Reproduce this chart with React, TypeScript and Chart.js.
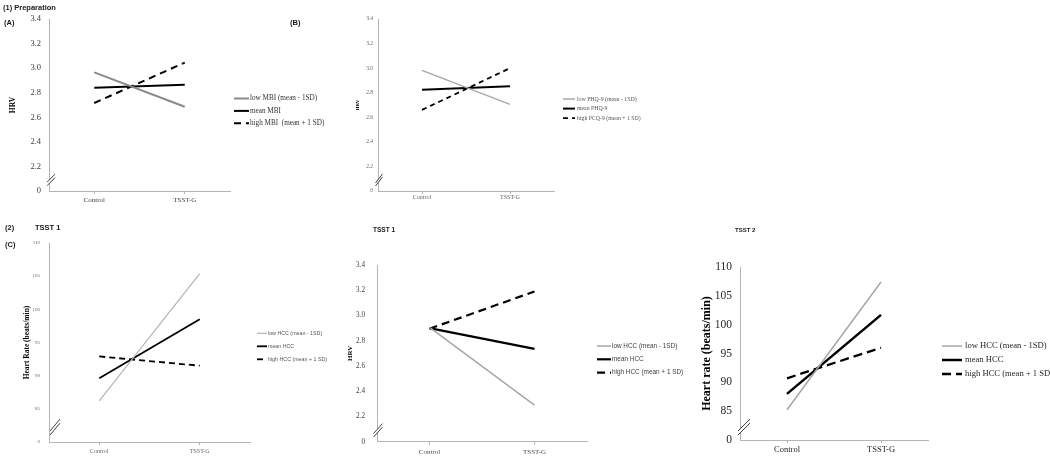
import React, { useEffect, useRef } from "react";
import { Chart, registerables } from "chart.js";
Chart.register(...registerables);

// ---------- data ----------
const categories = ["Control", "TSST-G"];

const hrvTickLabels = ["0", "2.2", "2.4", "2.6", "2.8", "3.0", "3.2", "3.4"];
const hrTickLabels = ["0", "85", "90", "95", "100", "105", "110"];

// (A) Preparation – HRV by MBI
const mbiLabels = ["low MBI (mean - 1SD)", "mean MBI", "high MBI  (mean + 1 SD)"];
const mbiLow = [2.966, 2.686];
const mbiMean = [2.84, 2.865];
const mbiHigh = [2.716, 3.045];

// (B) Preparation – HRV by PHQ-9
const phqLabels = ["low PHQ-9 (mean - 1SD)", "mean PHQ-9", "high PCQ-9 (mean + 1 SD)"];
const phqLow = [2.982, 2.705];
const phqMean = [2.824, 2.852];
const phqHigh = [2.66, 3.0];

// (C) TSST 1 – heart rate by HCC
const hccLabels = ["low HCC (mean - 1SD)", "mean HCC", "high HCC (mean + 1 SD)"];
const hr1Low = [86.2, 105.4];
const hr1Mean = [89.6, 98.5];
const hr1High = [92.9, 91.5];

// TSST 1 – HRV by HCC
const hrv1Low = [2.905, 2.29];
const hrv1Mean = [2.9, 2.735];
const hrv1High = [2.895, 3.19];

// TSST 2 – heart rate by HCC
const hr2Low = [85.25, 107.4];
const hr2Mean = [88.0, 101.7];
const hr2High = [90.7, 96.0];

const hrvRange = { min: 2.0, max: 3.4, step: 0.2 };
const hrRange = { min: 80, max: 110, step: 5 };

// ---------- styling / layout ----------
const W = 1050;
const H = 458;
const SERIF = '"Liberation Serif", "DejaVu Serif", serif';
const SANS = '"Liberation Sans", "DejaVu Sans", sans-serif';
const AXIS = "#b4b4b4";

type Series = { label: string; data: number[]; color: string; width: number; dash: number[] };

type PanelCfg = {
  plot: { l: number; t: number; r: number; b: number };
  range: { min: number; max: number; step: number };
  tickLabels: string[];
  yTitle: string;
  yTitleSize: number;
  yTitleX: number;
  yTickSize: number;
  yTickPad: number;
  tickColor: string;
  xTickSize: number;
  xTickPad: number;
  series: Series[];
  legend: { x: number; sample: number; textX: number; y0: number; gap: number; size: number; family: string; color: string };
  brk: { dx: number; hw: number; hh: number; sep: number };
};

function mk(labels: string[], low: number[], mean: number[], high: number[], gray: string, wLow: number, wMean: number, wHigh: number, dash: number[]): Series[] {
  return [
    { label: labels[0], data: low, color: gray, width: wLow, dash: [] },
    { label: labels[1], data: mean, color: "#000000", width: wMean, dash: [] },
    { label: labels[2], data: high, color: "#000000", width: wHigh, dash },
  ];
}

const panels: PanelCfg[] = [
  {
    plot: { l: 49, t: 19, r: 230, b: 191 },
    range: hrvRange,
    tickLabels: hrvTickLabels,
    yTitle: "HRV",
    yTitleSize: 7.5,
    yTitleX: 13,
    yTickSize: 8.5,
    yTickPad: 8,
    tickColor: "#404040",
    xTickSize: 7,
    xTickPad: 2,
    series: mk(mbiLabels, mbiLow, mbiMean, mbiHigh, "#8a8a8a", 2, 2, 2, [7, 5]),
    legend: { x: 234, sample: 15, textX: 250, y0: 98.5, gap: 12.4, size: 7.2, family: SERIF, color: "#333333" },
    brk: { dx: 2, hw: 4, hh: 4, sep: 3.5 },
  },
  {
    plot: { l: 378, t: 19, r: 554, b: 191 },
    range: hrvRange,
    tickLabels: hrvTickLabels,
    yTitle: "HRV",
    yTitleSize: 5,
    yTitleX: 358,
    yTickSize: 5.5,
    yTickPad: 5,
    tickColor: "#666666",
    xTickSize: 6,
    xTickPad: 0,
    series: mk(phqLabels, phqLow, phqMean, phqHigh, "#a8a8a8", 1.5, 2, 1.8, [5, 4]),
    legend: { x: 563, sample: 12, textX: 577, y0: 99, gap: 9.6, size: 5.8, family: SERIF, color: "#555555" },
    brk: { dx: 1, hw: 3.5, hh: 4.5, sep: 3 },
  },
  {
    plot: { l: 49, t: 243, r: 250, b: 442 },
    range: hrRange,
    tickLabels: hrTickLabels,
    yTitle: "Heart Rate (beats/min)",
    yTitleSize: 7.5,
    yTitleX: 27,
    yTickSize: 5,
    yTickPad: 9,
    tickColor: "#666666",
    xTickSize: 6,
    xTickPad: 3,
    series: mk(hccLabels, hr1Low, hr1Mean, hr1High, "#b3b3b3", 1.2, 1.8, 1.8, [6, 4]),
    legend: { x: 257, sample: 10, textX: 268, y0: 333.3, gap: 13, size: 5.3, family: SANS, color: "#555555" },
    brk: { dx: 6, hw: 5, hh: 6, sep: 4 },
  },
  {
    plot: { l: 377, t: 265, r: 587, b: 443 },
    range: hrvRange,
    tickLabels: hrvTickLabels,
    yTitle: "HRV",
    yTitleSize: 7,
    yTitleX: 350,
    yTickSize: 7.2,
    yTickPad: 12,
    tickColor: "#404040",
    xTickSize: 7,
    xTickPad: 3,
    series: mk(hccLabels, hrv1Low, hrv1Mean, hrv1High, "#a6a6a6", 1.5, 2.2, 2.2, [8, 5]),
    legend: { x: 597, sample: 14, textX: 612, y0: 346, gap: 13.3, size: 6.4, family: SANS, color: "#404040" },
    brk: { dx: 1, hw: 4.5, hh: 5, sep: 3.5 },
  },
  {
    plot: { l: 740, t: 267, r: 928, b: 440 },
    range: hrRange,
    tickLabels: hrTickLabels,
    yTitle: "Heart rate (beats/min)",
    yTitleSize: 12,
    yTitleX: 707,
    yTickSize: 11.5,
    yTickPad: 8,
    tickColor: "#262626",
    xTickSize: 8.5,
    xTickPad: 2,
    series: mk(hccLabels, hr2Low, hr2Mean, hr2High, "#a6a6a6", 1.5, 2.5, 2.3, [9, 5]),
    legend: { x: 942, sample: 20, textX: 965, y0: 346, gap: 14, size: 8.6, family: SERIF, color: "#262626" },
    brk: { dx: 4, hw: 6, hh: 6, sep: 4 },
  },
];

type Header = { text: string; x: number; y: number; size: number };
const headers: Header[] = [
  { text: "(1) Preparation", x: 3, y: 8, size: 7.5 },
  { text: "(A)", x: 4, y: 23, size: 7.5 },
  { text: "(B)", x: 290, y: 23, size: 7.5 },
  { text: "(2)", x: 5, y: 228, size: 7.5 },
  { text: "TSST 1", x: 35, y: 228, size: 7.5 },
  { text: "(C)", x: 5, y: 245, size: 7.5 },
  { text: "TSST 1", x: 373, y: 230, size: 6.5 },
  { text: "TSST 2", x: 735, y: 230, size: 6 },
];

function PanelChart({ cfg }: { cfg: PanelCfg }) {
  const ref = useRef<HTMLCanvasElement | null>(null);
  useEffect(() => {
    const canvas = ref.current;
    if (!canvas) return;
    const X_H = 12;
    const titleLeft = cfg.yTitleX - 0.6 * cfg.yTitleSize;
    const yWidth = cfg.plot.l - titleLeft;

    const decor = {
      id: "decor",
      afterDraw(chart: any) {
        const { ctx, chartArea, scales } = chart;
        const ys = scales.y;
        // axis break mark
        const b = cfg.brk;
        const cy = ys.getPixelForValue(cfg.range.min + cfg.range.step * 0.45);
        const cx = chartArea.left + b.dx;
        ctx.save();
        ctx.fillStyle = "#ffffff";
        ctx.beginPath();
        ctx.moveTo(cx - b.hw, cy + b.hh - b.sep / 2);
        ctx.lineTo(cx + b.hw, cy - b.hh - b.sep / 2);
        ctx.lineTo(cx + b.hw, cy - b.hh + b.sep / 2);
        ctx.lineTo(cx - b.hw, cy + b.hh + b.sep / 2);
        ctx.closePath();
        ctx.fill();
        ctx.strokeStyle = "#404040";
        ctx.lineWidth = 1;
        for (const s of [-1, 1]) {
          ctx.beginPath();
          ctx.moveTo(cx - b.hw, cy + b.hh + (s * b.sep) / 2);
          ctx.lineTo(cx + b.hw, cy - b.hh + (s * b.sep) / 2);
          ctx.stroke();
        }
        // legend
        const lg = cfg.legend;
        ctx.font = `${lg.size}px ${lg.family}`;
        ctx.textBaseline = "middle";
        ctx.textAlign = "left";
        chart.data.datasets.forEach((ds: any, i: number) => {
          const y = lg.y0 + i * lg.gap;
          ctx.strokeStyle = ds.borderColor;
          ctx.lineWidth = ds.borderWidth;
          ctx.setLineDash(ds.borderDash || []);
          ctx.lineCap = "butt";
          ctx.beginPath();
          ctx.moveTo(lg.x, y);
          ctx.lineTo(lg.x + lg.sample, y);
          ctx.stroke();
          ctx.setLineDash([]);
          ctx.fillStyle = lg.color;
          ctx.fillText(ds.label, lg.textX, y);
        });
        ctx.restore();
      },
    };

    const chart = new Chart(canvas, {
      type: "line",
      data: {
        labels: categories,
        datasets: cfg.series.map((s) => ({
          label: s.label,
          data: s.data,
          borderColor: s.color,
          backgroundColor: s.color,
          borderWidth: s.width,
          borderDash: s.dash,
          borderCapStyle: "butt",
          pointRadius: 0,
          pointHoverRadius: 0,
          tension: 0,
          fill: false,
        })),
      },
      options: {
        animation: false,
        responsive: false,
        maintainAspectRatio: false,
        devicePixelRatio: 1,
        events: [],
        layout: {
          padding: {
            left: titleLeft,
            top: cfg.plot.t,
            right: W - cfg.plot.r,
            bottom: H - cfg.plot.b - X_H,
          },
        },
        plugins: { legend: { display: false }, tooltip: { enabled: false }, title: { display: false } },
        scales: {
          x: {
            type: "category",
            offset: true,
            grid: { display: true, drawOnChartArea: false, drawTicks: true, tickLength: 3, color: AXIS },
            border: { display: true, color: AXIS, width: 1 },
            ticks: {
              autoSkip: false,
              maxRotation: 0,
              padding: cfg.xTickPad,
              color: cfg.tickColor,
              font: { family: SERIF, size: cfg.xTickSize },
            },
            afterFit: (s: any) => {
              s.height = X_H;
            },
          },
          y: {
            type: "linear",
            min: cfg.range.min,
            max: cfg.range.max,
            grid: { display: false, drawTicks: false },
            border: { display: true, color: AXIS, width: 1 },
            ticks: {
              stepSize: cfg.range.step,
              padding: cfg.yTickPad,
              color: cfg.tickColor,
              font: { family: SERIF, size: cfg.yTickSize },
              callback: (v: any, i: number) => {
                const lbl = cfg.tickLabels[i];
                return lbl !== undefined ? lbl : String(v);
              },
            },
            title: {
              display: true,
              text: cfg.yTitle,
              color: "#000000",
              padding: 0,
              font: { family: SERIF, size: cfg.yTitleSize, weight: "bold", lineHeight: 1.2 },
            },
            afterFit: (s: any) => {
              s.width = yWidth;
            },
          },
        },
      },
      plugins: [decor],
    } as any);
    return () => chart.destroy();
  }, [cfg]);
  return <canvas ref={ref} width={W} height={H} style={{ position: "absolute", left: 0, top: 0, width: W, height: H }} />;
}

export default function App() {
  return (
    <div style={{ position: "absolute", left: 0, top: 0, width: W, height: H, background: "#ffffff", overflow: "hidden" }}>
      {panels.map((p, i) => (
        <PanelChart key={i} cfg={p} />
      ))}
      {headers.map((h, i) => (
        <div
          key={"h" + i}
          style={{
            position: "absolute",
            left: h.x,
            top: h.y,
            transform: "translateY(-50%)",
            font: `bold ${h.size}px ${SANS}`,
            lineHeight: 1,
            whiteSpace: "nowrap",
            color: "#1a1a1a",
          }}
        >
          {h.text}
        </div>
      ))}
    </div>
  );
}
